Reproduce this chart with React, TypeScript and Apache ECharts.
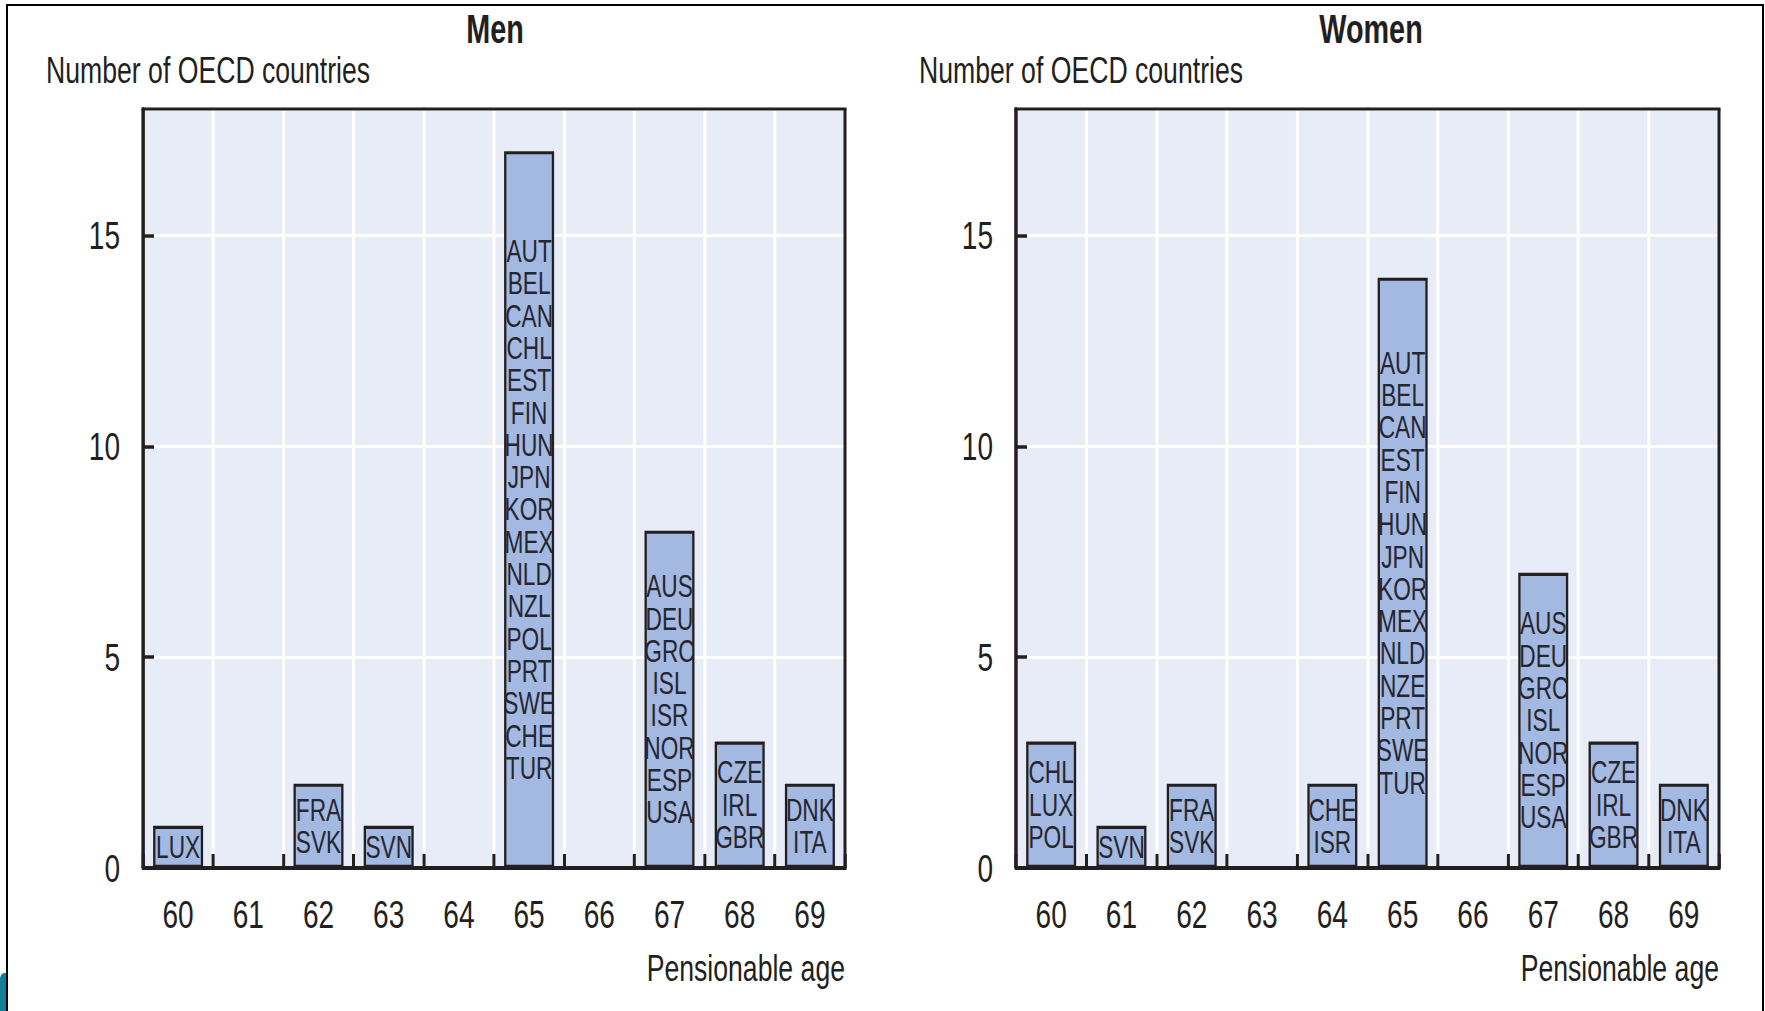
import React, { useEffect, useRef } from "react";
import * as echarts from "echarts";

const categories = ["60", "61", "62", "63", "64", "65", "66", "67", "68", "69"];
const menValues = [1, 0, 2, 1, 0, 17, 0, 8, 3, 2];
const womenValues = [3, 1, 2, 0, 2, 14, 0, 7, 3, 2];
const menCountries: string[][] = [
  ["LUX"],
  [],
  ["FRA", "SVK"],
  ["SVN"],
  [],
  ["AUT", "BEL", "CAN", "CHL", "EST", "FIN", "HUN", "JPN", "KOR", "MEX", "NLD", "NZL", "POL", "PRT", "SWE", "CHE", "TUR"],
  [],
  ["AUS", "DEU", "GRC", "ISL", "ISR", "NOR", "ESP", "USA"],
  ["CZE", "IRL", "GBR"],
  ["DNK", "ITA"],
];
const womenCountries: string[][] = [
  ["CHL", "LUX", "POL"],
  ["SVN"],
  ["FRA", "SVK"],
  [],
  ["CHE", "ISR"],
  ["AUT", "BEL", "CAN", "EST", "FIN", "HUN", "JPN", "KOR", "MEX", "NLD", "NZE", "PRT", "SWE", "TUR"],
  [],
  ["AUS", "DEU", "GRC", "ISL", "NOR", "ESP", "USA"],
  ["CZE", "IRL", "GBR"],
  ["DNK", "ITA"],
];
const panelTitles = ["Men", "Women"];
const yAxisTitle = "Number of OECD countries";
const xAxisTitle = "Pensionable age";
const yMax = 18;
const yInterval = 5;

// The reference uses a strongly condensed typeface: the chart is drawn wider
// and squeezed horizontally by S so that the text gets the same proportions.
const S = 0.72;
const PAGE_W = 1765;
const PAGE_H = 1011;
const FONT = "'Liberation Sans', Arial, sans-serif";
const INK = "#231F20";
const BAR = "#A3B9E1";
const PLOT_BG = "#E8ECF7";

const sx = (v: number) => v / S;

const panels = [
  { left: 143, width: 702, titleX: 495, nameX: 46, values: menValues, countries: menCountries },
  { left: 1016, width: 703, titleX: 1371, nameX: 919, values: womenValues, countries: womenCountries },
];
const TOP = 109;
const HEIGHT = 759;

export default function App() {
  const ref = useRef<HTMLDivElement>(null);
  useEffect(() => {
    if (!ref.current) return;
    const chart = echarts.init(ref.current, undefined, { renderer: "svg" });

    const grids = panels.map((p) => ({
      left: sx(p.left),
      top: TOP,
      width: sx(p.width),
      height: HEIGHT,
      show: true,
      backgroundColor: PLOT_BG,
      borderWidth: 0,
    }));

    const mainX = panels.map((_, i) => ({
      type: "category",
      gridIndex: i,
      data: categories,
      position: "bottom",
      z: 3,
      axisLine: { show: true, lineStyle: { color: INK, width: 4 } },
      axisTick: {
        show: true,
        inside: true,
        length: 14,
        alignWithLabel: false,
        lineStyle: { color: INK, width: 3 / S },
      },
      axisLabel: { margin: 46, verticalAlign: "middle", fontSize: 39, fontFamily: FONT, color: INK },
      splitLine: { show: false },
    }));
    const gridX = panels.map((_, i) => ({
      type: "category",
      gridIndex: i,
      data: categories,
      position: "bottom",
      z: 0,
      axisLine: { show: false },
      axisTick: { show: false },
      axisLabel: { show: false },
      splitLine: { show: true, lineStyle: { color: "#ffffff", width: 3 / S } },
    }));
    const mainY = panels.map((_, i) => ({
      type: "value",
      gridIndex: i,
      min: 0,
      max: yMax,
      interval: yInterval,
      z: 3,
      axisLine: { show: true, lineStyle: { color: INK, width: 3 / S } },
      axisTick: { show: true, inside: true, length: sx(11), lineStyle: { color: INK, width: 3.5 } },
      axisLabel: { margin: sx(23), fontSize: 39, fontFamily: FONT, color: INK, showMaxLabel: false },
      splitLine: { show: false },
    }));
    const gridY = panels.map((_, i) => ({
      type: "value",
      gridIndex: i,
      min: 0,
      max: yMax,
      interval: yInterval,
      z: 0,
      axisLine: { show: false },
      axisTick: { show: false },
      axisLabel: { show: false },
      splitLine: { show: true, lineStyle: { color: "#ffffff", width: 3 } },
    }));

    const series = panels.map((p, i) => ({
      type: "bar",
      name: panelTitles[i],
      xAxisIndex: i,
      yAxisIndex: i,
      data: p.values,
      barWidth: sx(50),
      z: 2,
      itemStyle: { color: BAR, borderColor: INK, borderWidth: 3.2 },
      label: {
        show: true,
        position: "inside",
        formatter: (prm: any) => p.countries[prm.dataIndex].join("\n"),
        fontFamily: FONT,
        fontSize: 31.5,
        lineHeight: 32.3,
        color: "#26262F",
      },
    }));

    const vLine = (x: number, y1: number, y2: number, w: number, color: string, z = 100) => ({
      type: "line",
      z,
      shape: { x1: sx(x), y1, x2: sx(x), y2 },
      style: { stroke: color, lineWidth: w / S },
    });
    const hLine = (x1: number, x2: number, y: number, w: number, color: string, z = 100) => ({
      type: "line",
      z,
      shape: { x1: sx(x1), y1: y, x2: sx(x2), y2: y },
      style: { stroke: color, lineWidth: w },
    });

    const graphic: any[] = [
      // outer page frame
      hLine(6, 1764, 5, 2, "#000000"),
      vLine(7, 4, PAGE_H + 2, 2, "#000000"),
      vLine(1763, 4, PAGE_H + 2, 2, "#000000"),
      {
        type: "rect",
        z: 100,
        shape: { x: 0, y: 973, width: sx(6), height: 38, r: [6, 0, 0, 0] },
        style: { fill: "#127F98" },
      },
    ];
    panels.forEach((p, i) => {
      const l = p.left;
      const r = p.left + p.width;
      graphic.push(hLine(l - 1.5, r + 1.5, TOP, 3, INK, 90));
      graphic.push(vLine(l, TOP, TOP + HEIGHT, 3, INK, 90));
      graphic.push(vLine(r, TOP, TOP + HEIGHT + 2, 3, INK, 90));
      graphic.push({
        type: "text",
        z: 90,
        x: sx(p.titleX),
        y: 29,
        style: {
          text: panelTitles[i],
          fontFamily: FONT,
          fontWeight: "bold",
          fontSize: 40,
          fill: INK,
          align: "center",
          verticalAlign: "middle",
        },
      });
      graphic.push({
        type: "text",
        z: 90,
        x: sx(p.nameX),
        y: 70,
        style: {
          text: yAxisTitle,
          fontFamily: FONT,
          fontSize: 37,
          fill: INK,
          align: "left",
          verticalAlign: "middle",
        },
      });
      graphic.push({
        type: "text",
        z: 90,
        x: sx(r),
        y: 968,
        style: {
          text: xAxisTitle,
          fontFamily: FONT,
          fontSize: 37,
          fill: INK,
          align: "right",
          verticalAlign: "middle",
        },
      });
    });

    chart.setOption({
      animation: false,
      backgroundColor: "#ffffff",
      grid: grids,
      xAxis: [...mainX, ...gridX],
      yAxis: [...mainY, ...gridY],
      series,
      graphic,
    });
    return () => chart.dispose();
  }, []);

  return (
    <div style={{ position: "fixed", left: 0, top: 0, width: PAGE_W, height: PAGE_H, overflow: "hidden", background: "#ffffff" }}>
      <div
        ref={ref}
        style={{
          width: sx(PAGE_W),
          height: PAGE_H,
          transform: `scaleX(${S})`,
          transformOrigin: "0 0",
        }}
      />
    </div>
  );
}
